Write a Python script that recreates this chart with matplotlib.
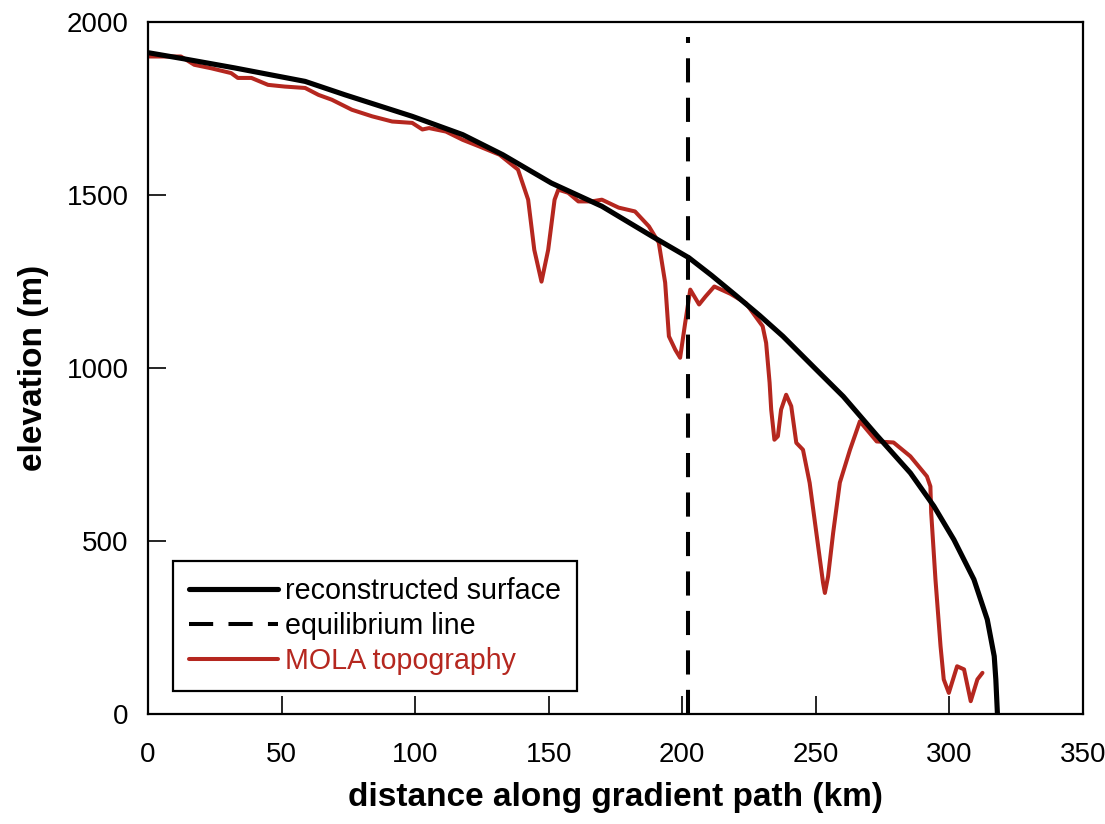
import numpy as np
import matplotlib.pyplot as plt

plt.rcParams['font.family'] = ['Liberation Sans', 'DejaVu Sans']

# reconstructed ice surface profile (km, m)
surf_km = [0, 13.6, 32.4, 58.8, 73.8, 98.9, 117.8, 132.8, 151, 169.9, 188.7,
           202.5, 211, 220.1, 229, 237.7, 250, 260.3, 272.8, 285.4, 294.2,
           301.7, 309.2, 314.2, 316.8, 317.4, 318]
surf_m = [1912, 1894, 1868, 1829, 1790, 1728, 1675, 1617, 1535, 1468, 1381,
          1319, 1268, 1210, 1152, 1092, 997, 918, 806, 697, 601, 504, 389,
          273, 167, 100, 0]

# MOLA topography along the same path
mola_km = [0, 5, 12.3, 17.3, 23.6, 31.1, 33.6, 38.7, 44.9, 51.2, 58.8, 63.8,
           68.8, 76.3, 83.9, 91.4, 98.9, 102.7, 105.2, 111.5, 117.8, 124,
           131.6, 138.5, 142.3, 144.6, 147.3, 149.8, 152.2, 153.6, 157.3,
           161.1, 166.1, 169.9, 176.2, 182.3, 187.5, 191.2, 193.6, 195, 197.4,
           199.2, 201.1, 203, 206.3, 208.7, 212, 218, 223.8, 230.1, 231.4,
           232.7, 233.3, 234.5, 235.8, 237, 238.9, 240.8, 242.7, 245.2, 247.7,
           250.2, 252.7, 253.4, 254.6, 256.5, 259, 262.8, 266.5, 272.8, 279.1,
           285.4, 291.6, 292.9, 293.2, 294.8, 296.7, 297.9, 299.8, 302.9,
           305.5, 308, 310.5, 312.4]
mola_m = [1901, 1901, 1901, 1877, 1867, 1853, 1839, 1839, 1819, 1814, 1810,
          1790, 1776, 1747, 1728, 1713, 1709, 1690, 1694, 1684, 1660, 1641,
          1617, 1574, 1487, 1342, 1250, 1342, 1487, 1516, 1507, 1482, 1482,
          1487, 1464, 1453, 1410, 1363, 1247, 1092, 1053, 1030, 1131, 1227,
          1184, 1207, 1236, 1215, 1188, 1121, 1073, 958, 880, 793, 803, 880,
          923, 890, 784, 764, 668, 524, 380, 350, 398, 524, 669, 764, 846,
          788, 785, 745, 687, 658, 582, 389, 196, 100, 61, 138, 129, 37, 100,
          119]

ela_km = 202.1
ela_top = 1957

red = '#b5271f'

fig = plt.figure(figsize=(11.05, 8.24), dpi=100)
ax = fig.add_axes([0.134, 0.1335, 0.846, 0.8395])

ax.plot(surf_km, surf_m, color='black', lw=3.7, label='reconstructed surface',
        zorder=3, solid_capstyle='round', solid_joinstyle='round')
ax.plot([ela_km, ela_km], [0, ela_top], color='black', lw=2.9,
        dashes=(6, 3.8), label='equilibrium line', zorder=4)
ax.plot(mola_km, mola_m, color=red, lw=2.9, label='MOLA topography',
        zorder=2, solid_joinstyle='round', solid_capstyle='round')

ax.set_xlim(0, 350)
ax.set_ylim(0, 2000)
ax.set_xticks(np.arange(0, 351, 50))
ax.set_yticks(np.arange(0, 2001, 500))
ax.tick_params(direction='in', length=13, width=1.2, labelsize=20,
               top=False, right=False)
ax.tick_params(axis='x', pad=20)
ax.tick_params(axis='y', pad=14)
for s in ax.spines.values():
    s.set_linewidth(1.6)

ax.set_xlabel('distance along gradient path (km)', fontsize=24,
              fontweight='bold', labelpad=10)
ax.set_ylabel('elevation (m)', fontsize=24, fontweight='bold', labelpad=13)

leg = ax.legend(loc='lower left', bbox_to_anchor=(0.027, 0.033), fontsize=20.6,
                handlelength=3.1, handletextpad=0.25, labelspacing=0.25,
                borderpad=0.55, borderaxespad=0, fancybox=False,
                edgecolor='black', framealpha=1)
leg.get_frame().set_linewidth(1.6)
leg.get_texts()[2].set_color(red)

fig.savefig('out.png', dpi=100)
